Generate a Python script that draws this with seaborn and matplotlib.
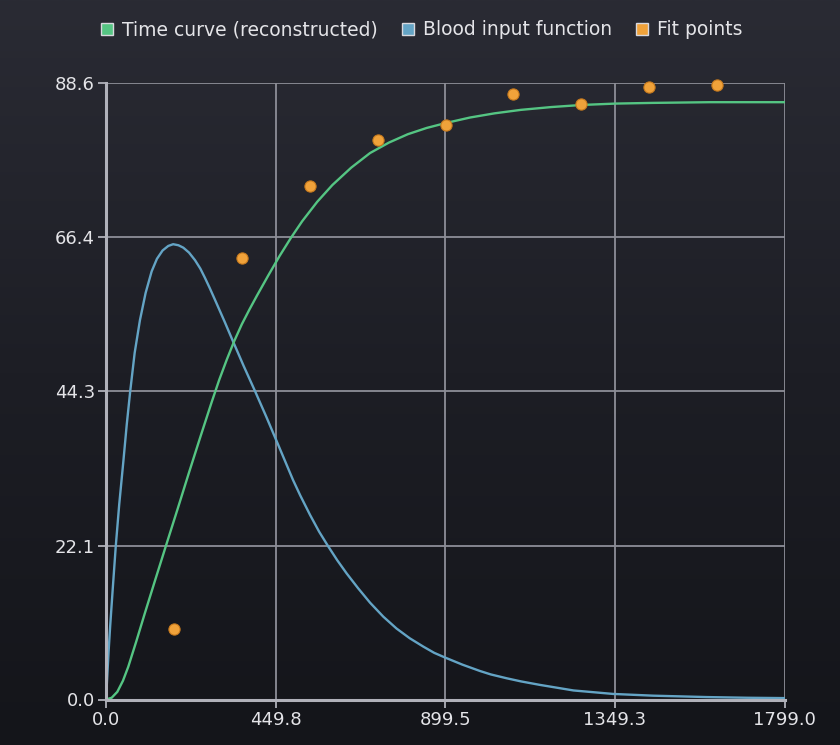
import numpy as np
import pandas as pd
import seaborn as sns
import matplotlib.pyplot as plt
from matplotlib.lines import Line2D

# values
time_curve_t = [0, 15, 30, 45, 59, 80, 103, 130, 159, 190, 220, 250, 280, 300, 320, 340,
                360, 380, 400, 430, 460, 490, 520, 560, 600, 650, 700, 750, 800, 850, 900,
                965, 1030, 1100, 1180, 1260, 1350, 1450, 1600, 1799]
time_curve_v = [0.0, 0.25, 1.1, 2.7, 4.7, 8.3, 12.4, 17.1, 22.1, 27.4, 32.6, 37.7, 42.7,
                45.9, 48.8, 51.5, 53.9, 56.0, 58.0, 60.9, 63.7, 66.3, 68.7, 71.5, 73.9, 76.4,
                78.5, 80.0, 81.2, 82.1, 82.8, 83.6, 84.2, 84.7, 85.1, 85.4, 85.6, 85.7, 85.8,
                85.8]

blood_t = [0, 3, 7, 11, 18, 26, 35, 46, 55, 64, 76, 90, 105, 121, 135, 150, 165, 178, 192,
           205, 220, 236, 250, 262, 275, 289, 302, 315, 337, 365, 395, 425, 461, 496, 515,
           541, 565, 589, 613, 638, 668, 700, 735, 770, 805, 841, 870, 900, 945, 991, 1020,
           1062, 1100, 1150, 1239, 1344, 1450, 1592, 1700, 1799]
blood_v = [0.0, 3.0, 7.0, 10.5, 16.0, 22.1, 28.0, 34.2, 39.5, 44.2, 49.8, 54.5, 58.4, 61.5,
           63.3, 64.5, 65.15, 65.4, 65.25, 64.9, 64.2, 63.1, 61.9, 60.6, 59.1, 57.4, 55.8,
           54.2, 51.4, 47.9, 44.3, 40.6, 36.0, 31.5, 29.3, 26.5, 24.1, 22.0, 20.0, 18.1,
           16.0, 13.9, 11.9, 10.2, 8.8, 7.6, 6.7, 6.0, 5.0, 4.1, 3.6, 3.05, 2.6, 2.1, 1.3,
           0.8, 0.55, 0.35, 0.25, 0.2]

fit_t = [180, 360, 540, 720, 900, 1080, 1260, 1440, 1620]
fit_v = [10.1, 63.4, 73.8, 80.3, 82.5, 87.0, 85.5, 88.0, 88.3]

x_ticks = [0.0, 449.8, 899.5, 1349.3, 1799.0]
y_ticks = [0.0, 22.1, 44.3, 66.4, 88.6]

labels = ["Time curve (reconstructed)", "Blood input function", "Fit points"]
colors = ["#55c583", "#64a4c5", "#f0a23a"]

TEXT = "#e4e4e8"
GRID = "#8d8e98"
SPINE = "#b0b1ba"

sns.set_theme(style="dark")
plt.rcParams["font.family"] = ["DejaVu Sans"]

fig = plt.figure(figsize=(8.4, 7.45), dpi=100)

# dark vertical gradient behind everything
bg = fig.add_axes([0, 0, 1, 1], zorder=-10)
grad = np.linspace(0, 1, 256).reshape(-1, 1)
bg.imshow(grad, aspect="auto", extent=[0, 1, 0, 1],
          cmap=sns.blend_palette(["#14151a", "#1d1e25", "#2a2b34"], as_cmap=True), origin="lower")
bg.set_axis_off()

ax = fig.add_axes([106 / 840, 1 - 699.5 / 745, (784.7 - 106) / 840, (699.5 - 82.7) / 745])
ax.set_facecolor("none")

curve_df = pd.DataFrame({"t": time_curve_t, "v": time_curve_v})
blood_df = pd.DataFrame({"t": blood_t, "v": blood_v})
fit_df = pd.DataFrame({"t": fit_t, "v": fit_v})

sns.lineplot(data=blood_df, x="t", y="v", color=colors[1], lw=1.7, ax=ax, zorder=3)
sns.lineplot(data=curve_df, x="t", y="v", color=colors[0], lw=1.7, ax=ax, zorder=4)
sns.scatterplot(data=fit_df, x="t", y="v", color=colors[2], s=65, edgecolor="#c77a1e",
                linewidth=0.8, ax=ax, zorder=5, clip_on=False)

ax.set_xlim(0, 1799)
ax.set_ylim(0, 88.6)
ax.set_xticks(x_ticks)
ax.set_yticks(y_ticks)
ax.set_xticklabels([f"{v:.1f}" for v in x_ticks])
ax.set_yticklabels([f"{v:.1f}" for v in y_ticks])
ax.set_xlabel("")
ax.set_ylabel("")

ax.grid(True, color=GRID, lw=1.3)
ax.tick_params(axis="both", colors=SPINE, labelcolor=TEXT, labelsize=13,
               length=6, width=1.3, direction="out", left=True, bottom=True, pad=2)
for side in ["top", "right"]:
    ax.spines[side].set_visible(False)
for side in ["left", "bottom"]:
    ax.spines[side].set_color(SPINE)
    ax.spines[side].set_linewidth(2.2)
    ax.spines[side].set_zorder(6)

handles = [Line2D([], [], ls="", marker="s", markersize=8.5, markerfacecolor=c,
                  markeredgecolor="#d8d8de", markeredgewidth=1.0) for c in colors]
fig.legend(handles, labels, loc="center", bbox_to_anchor=(0.5, 0.96), ncol=3, frameon=False,
           fontsize=13.5, labelcolor=TEXT, handletextpad=0.3, columnspacing=1.1, handlelength=1.0)

fig.savefig("out.png", dpi=100)
plt.close(fig)
